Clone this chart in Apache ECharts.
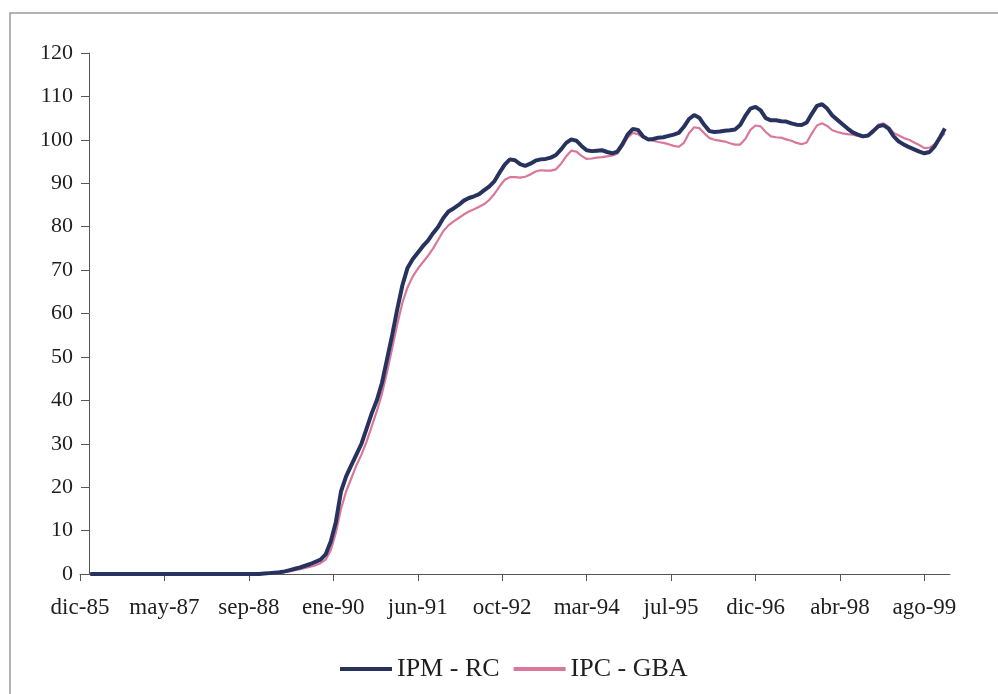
<!DOCTYPE html>
<html>
<head>
<meta charset="utf-8">
<title>IPM - RC / IPC - GBA</title>
<script src="https://cdn.jsdelivr.net/npm/echarts@6/dist/echarts.min.js"></script>
<style>
  html, body { margin: 0; padding: 0; background: #ffffff; }
  #chart { width: 998px; height: 694px; }
</style>
</head>
<body>
<div id="chart"></div>
<script>
// Month index 0 = dic-85; the series start at feb-86 (index 2).
const firstMonth = 2;

// Tick labels, one every 16.5 months from dic-85
const tickLabels = ['dic-85', 'may-87', 'sep-88', 'ene-90', 'jun-91', 'oct-92',
  'mar-94', 'jul-95', 'dic-96', 'abr-98', 'ago-99'];
const tickStep = 16.5;

// IPM - RC, monthly values from feb-86
const ipmRC = [
  0, 0, 0, 0, 0, 0, 0, 0, 0, 0, 0, 0, 0, 0, 0, 0, 0,
  0, 0, 0, 0, 0, 0, 0, 0, 0, 0, 0, 0, 0, 0, 0, 0, 0,
  0.1, 0.2, 0.3, 0.4, 0.6, 0.9, 1.2, 1.5, 1.9, 2.3, 2.8, 3.3,
  4.5, 7.5, 12, 19, 22.5, 25, 27.5, 30, 33.5, 37,
  40, 44, 49.5, 55, 61, 66.5, 70.5, 72.5, 74, 75.5,
  76.8, 78.5, 80, 82, 83.5, 84.2, 85, 86, 86.6, 87,
  87.5, 88.4, 89.3, 90.5, 92.5, 94.3, 95.5, 95.3, 94.4, 94,
  94.5, 95.2, 95.5, 95.6, 95.9, 96.5, 97.8, 99.3, 100.1, 99.8,
  98.6, 97.6, 97.4, 97.5, 97.6, 97.2, 96.9, 97.3, 99, 101.2,
  102.5, 102.3, 100.8, 100.1, 100.2, 100.5, 100.6, 100.9, 101.2, 101.6,
  103, 104.8, 105.7, 105.1, 103.4, 102, 101.8, 101.9, 102.1, 102.2,
  102.4, 103.4, 105.5, 107.2, 107.6, 106.8, 105, 104.5, 104.5, 104.3,
  104.2, 103.8, 103.5, 103.4, 104, 106, 107.8, 108.2, 107.2, 105.6,
  104.6, 103.6, 102.6, 101.7, 101.2, 100.8, 101, 102, 103.1, 103.4,
  102.6, 100.8, 99.6, 98.9, 98.3, 97.8, 97.3, 96.9, 97.2, 98.5,
  100.5, 102.6
];

// IPC - GBA, monthly values from feb-86
const ipcGBA = [
  0, 0, 0, 0, 0, 0, 0, 0, 0, 0, 0, 0, 0, 0, 0, 0, 0, 0,
  0, 0, 0, 0, 0, 0, 0, 0, 0, 0, 0, 0, 0, 0, 0, 0, 0, 0,
  0.1, 0.2, 0.4, 0.6, 0.9, 1.1, 1.4, 1.7, 2, 2.5,
  3.3, 5.5, 9.5, 15, 19, 22, 25, 27.5, 30.5, 34,
  37.5, 41.5, 46.5, 52, 57.5, 62.5, 66, 68.5, 70.3, 71.8,
  73.3, 75, 77, 79, 80.3, 81.2, 82, 82.8, 83.5, 84,
  84.6, 85.2, 86.2, 87.6, 89.3, 90.8, 91.4, 91.4, 91.3, 91.5,
  92, 92.7, 93, 92.9, 92.9, 93.2, 94.5, 96.2, 97.5, 97.3,
  96.3, 95.6, 95.7, 95.9, 96, 96.2, 96.4, 96.8, 98.5, 100.5,
  101.6, 101.3, 100.5, 100.1, 99.8, 99.5, 99.3, 99, 98.6, 98.4,
  99.3, 101.5, 102.9, 102.7, 101.5, 100.4, 100, 99.8, 99.6, 99.2,
  98.9, 98.9, 100.2, 102.3, 103.3, 103.1, 101.8, 100.8, 100.6, 100.5,
  100.1, 99.8, 99.3, 99, 99.4, 101.5, 103.3, 103.8, 103.2, 102.2,
  101.8, 101.5, 101.3, 101.2, 100.9, 100.6, 100.9, 102.3, 103.5, 103.8,
  103, 101.6, 101, 100.4, 100, 99.4, 98.8, 98.1, 98.2, 99,
  100.3, 101.5
];

const serif = '"Liberation Serif", "Times New Roman", "DejaVu Serif", serif';
const textColor = '#1e1e1e';
const axisColor = '#555555';
const navy = '#27335e';
const pink = '#d9789a';

const toPoints = arr => arr.map((v, i) => [firstMonth + i, v]);
const tickValues = tickLabels.map((_, i) => i * tickStep);

const chart = echarts.init(document.getElementById('chart'), null, { renderer: 'canvas' });

chart.setOption({
  animation: false,
  backgroundColor: '#ffffff',
  graphic: [{
    type: 'rect',
    silent: true,
    shape: { x: 10, y: 13, width: 1100, height: 800 },
    style: { fill: 'none', stroke: '#9a9a9a', lineWidth: 1.5 }
  }],
  grid: { left: 80, right: 48, top: 53, bottom: 120, containLabel: false },
  legend: {
    left: 335,
    top: 651,
    itemWidth: 52,
    itemHeight: 4,
    itemGap: 14,
    icon: 'rect',
    textStyle: { fontFamily: serif, fontSize: 26, color: textColor },
    data: [
      { name: 'IPM - RC', itemStyle: { color: navy } },
      { name: 'IPC - GBA', itemStyle: { color: pink } }
    ]
  },
  xAxis: {
    type: 'value',
    min: 0,
    max: 170,
    splitLine: { show: false },
    axisLine: { show: true, lineStyle: { color: axisColor, width: 1 } },
    axisTick: {
      show: true, inside: false, length: 7,
      customValues: tickValues,
      lineStyle: { color: axisColor, width: 1 }
    },
    axisLabel: {
      customValues: tickValues,
      margin: 22,
      fontFamily: serif,
      fontSize: 23,
      color: textColor,
      formatter: v => tickLabels[Math.round(v / tickStep)] || ''
    }
  },
  yAxis: {
    type: 'value',
    min: 0,
    max: 120,
    interval: 10,
    offset: -9,
    splitLine: { show: false },
    axisLine: { show: true, lineStyle: { color: axisColor, width: 1 } },
    axisTick: { show: true, inside: false, length: 8, lineStyle: { color: axisColor, width: 1 } },
    axisLabel: {
      margin: 16,
      fontFamily: serif,
      fontSize: 22,
      color: textColor
    }
  },
  series: [
    {
      name: 'IPM - RC',
      type: 'line',
      symbol: 'none',
      smooth: false,
      data: toPoints(ipmRC),
      lineStyle: { color: navy, width: 4 },
      itemStyle: { color: navy },
      z: 3
    },
    {
      name: 'IPC - GBA',
      type: 'line',
      symbol: 'none',
      smooth: false,
      data: toPoints(ipcGBA),
      lineStyle: { color: pink, width: 2.2 },
      itemStyle: { color: pink },
      z: 2
    }
  ]
});
</script>
</body>
</html>
